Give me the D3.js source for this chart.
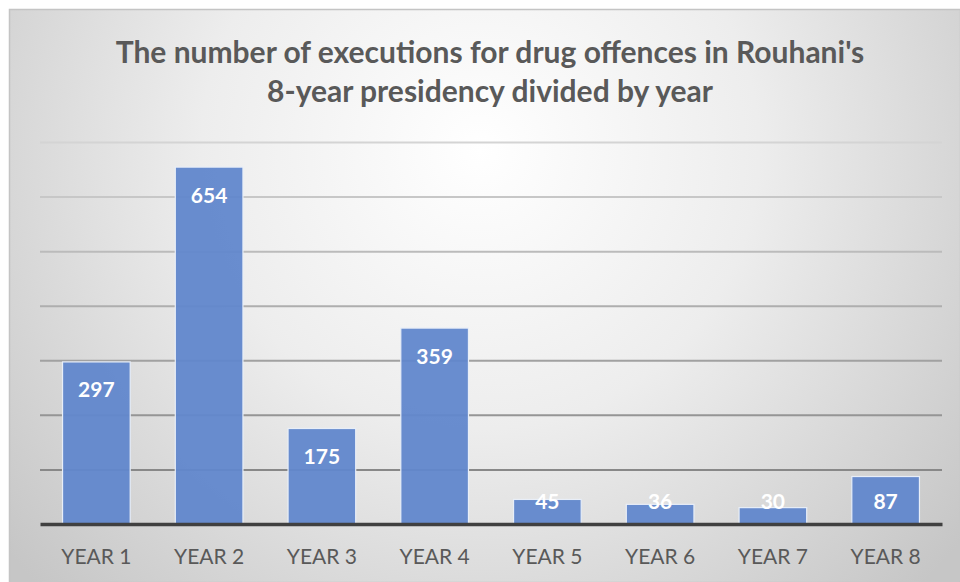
<!DOCTYPE html>
<html>
<head>
<meta charset="utf-8">
<script src="https://cdn.jsdelivr.net/npm/d3@7"></script>
<style>
html,body{margin:0;padding:0;background:#fff;}
svg{display:block;}
</style>
</head>
<body>
<svg id="chart" width="960" height="582"></svg>
<script>
const categories = ["YEAR 1","YEAR 2","YEAR 3","YEAR 4","YEAR 5","YEAR 6","YEAR 7","YEAR 8"];
const values = [297, 654, 175, 359, 45, 36, 30, 87];
const yTicks = [0, 100, 200, 300, 400, 500, 600, 700];
const titleLines = ["The number of executions for drug offences in Rouhani's", "8-year presidency divided by year"];

const W = 960, H = 582;
const svg = d3.select("#chart");
const defs = svg.append("defs");

const bg = defs.append("radialGradient").attr("id","bg")
  .attr("gradientUnits","userSpaceOnUse")
  .attr("cx",480).attr("cy",150).attr("r",620)
  .attr("fx",480).attr("fy",150);
bg.append("stop").attr("offset","0%").attr("stop-color","#ffffff");
bg.append("stop").attr("offset","45%").attr("stop-color","#ededed");
bg.append("stop").attr("offset","100%").attr("stop-color","#c6c6c6");

// frame
svg.append("rect").attr("x",9.5).attr("y",9.5).attr("width",W-9).attr("height",H-9)
  .attr("fill","url(#bg)").attr("stroke","#c4c4c4").attr("stroke-width",1.5);

const margin = {left:40, right:18, top:142, bottom:58};
const x = d3.scaleBand().domain(categories).range([margin.left, W - margin.right]).paddingInner(0.4).paddingOuter(0.2);
const y = d3.scaleLinear().domain([0, 700]).range([H - margin.bottom, margin.top]);
const gridColor = d3.scaleLinear().domain([700, 100]).range(["#d4d4d4", "#888888"]);

// gridlines
const yAxis = d3.axisLeft(y).tickValues(yTicks).tickSize(-(W - margin.right - margin.left)).tickFormat("");
const gy = svg.append("g").attr("transform",`translate(${margin.left},0)`).call(yAxis);
gy.select(".domain").remove();
gy.selectAll(".tick").filter(d => d === 0).remove();
gy.selectAll(".tick line").attr("stroke",d=>gridColor(d)).attr("stroke-width",2);

// bars
svg.append("g").selectAll("rect").data(values).join("rect")
  .attr("x",(d,i)=>x(categories[i]))
  .attr("y",d=>y(d))
  .attr("width",x.bandwidth())
  .attr("height",d=>y(0)-y(d))
  .attr("fill","#6187cc")
  .attr("fill-opacity",0.95)
  .attr("stroke","#e8eef8")
  .attr("stroke-width",1.2);

// x axis
const xAxis = d3.axisBottom(x).tickSize(0).tickPadding(28);
const gx = svg.append("g").attr("transform",`translate(0,${y(0)})`).call(xAxis);
gx.select(".domain").attr("stroke","#404040").attr("stroke-width",3.5);
gx.selectAll("text").attr("fill","#595959").attr("font-family","Lato, 'Open Sans', sans-serif")
  .attr("font-size",21).attr("dy","0.55em");

// labels
svg.append("g").selectAll("text").data(values).join("text")
  .attr("x",(d,i)=>x(categories[i]) + x.bandwidth()/2)
  .attr("y",d=>Math.min(y(d)+28, y(0)-23))
  .attr("dy","0.36em")
  .attr("text-anchor","middle")
  .attr("fill","#ffffff")
  .attr("font-family","Lato, 'Open Sans', sans-serif")
  .attr("font-weight","bold")
  .attr("font-size",21)
  .text(d=>d);

// title
svg.append("g").selectAll("text").data(titleLines).join("text")
  .attr("x",490)
  .attr("y",(d,i)=>52 + i*39)
  .attr("dy","0.36em")
  .attr("text-anchor","middle")
  .attr("fill","#595959")
  .attr("font-family","Lato, 'Open Sans', sans-serif")
  .attr("font-weight","bold")
  .attr("font-size",30)
  .text(d=>d);
</script>
</body>
</html>
